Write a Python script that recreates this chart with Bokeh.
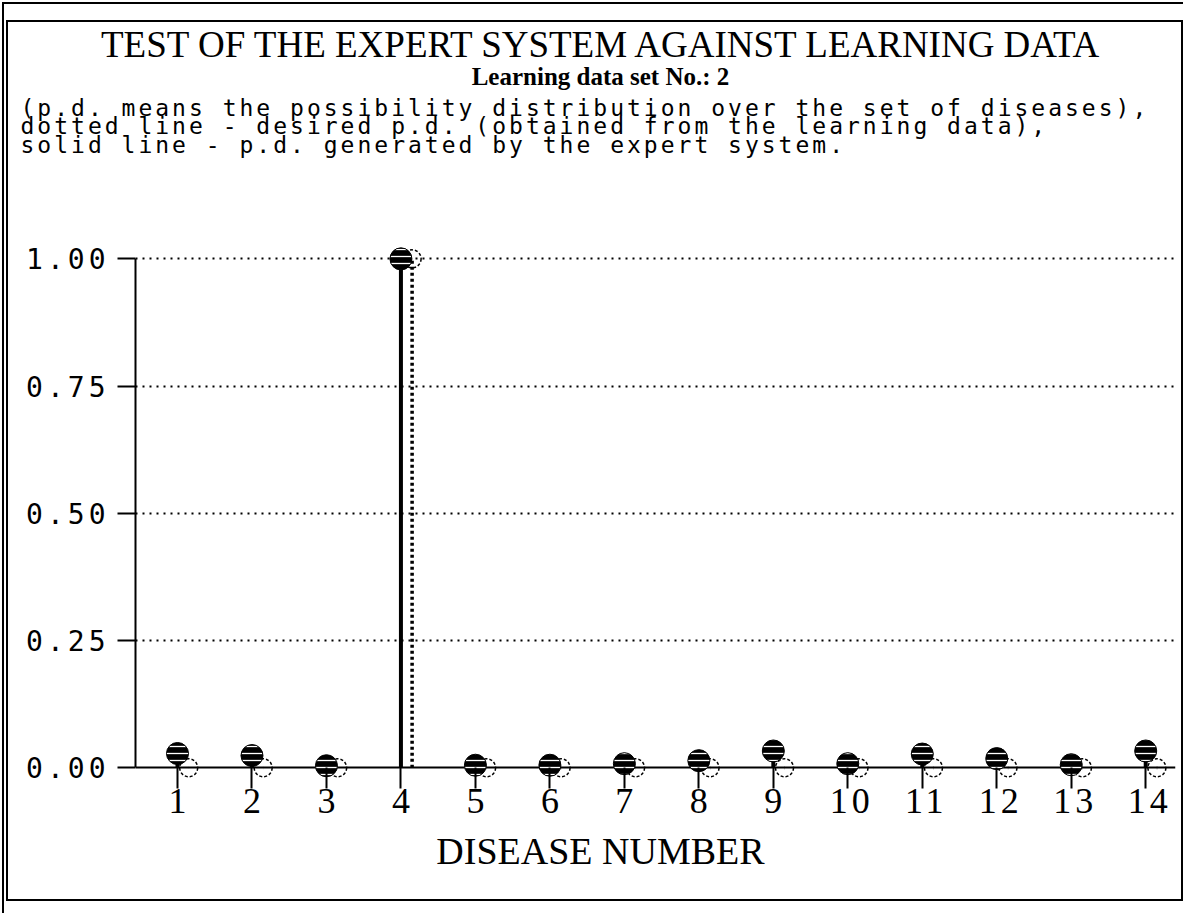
from bokeh.plotting import figure
from bokeh.layouts import column
from bokeh.models import (Range1d, FixedTicker, NumeralTickFormatter, Label,
                          Grid, ColumnDataSource)
from bokeh.transform import dodge
from bokeh.embed import file_html
from bokeh.resources import INLINE

# ---------------- data ----------------
diseases = list(range(1, 15))
expert_pd = [0.028, 0.024, 0.004, 1.0, 0.005, 0.005, 0.008,
             0.014, 0.033, 0.008, 0.027, 0.018, 0.006, 0.033]
desired_pd = [0, 0, 0, 1.0, 0, 0, 0, 0, 0, 0, 0, 0, 0, 0]
y_ticks = [0.0, 0.25, 0.5, 0.75, 1.0]
grid_levels = [0.25, 0.5, 0.75, 1.0]

title_text = "TEST OF THE EXPERT SYSTEM AGAINST LEARNING DATA"
subtitle_text = "Learning data set No.: 2"
note_lines = [
    "(p.d. means the possibility distribution over the set of diseases),",
    "dotted line - desired p.d. (obtained from the learning data),",
    "solid line - p.d. generated by the expert system.",
]
x_label = "DISEASE NUMBER"

W = 1173
HEAD1_H, HEAD2_H, CHART_H, FOOT_H = 69, 147, 592, 69


def blank(height, styles=None):
    f = figure(width=W, height=height, output_backend="svg", toolbar_location=None,
               x_range=Range1d(0, W), y_range=Range1d(height, 0),
               x_axis_type=None, y_axis_type=None, min_border=0)
    f.outline_line_color = None
    f.background_fill_color = "white"
    f.border_fill_color = "white"
    f.frame_align = False
    if styles:
        f.styles = styles
    return f


# ---------------- header: title + subtitle ----------------
head1 = blank(HEAD1_H)
head1.add_layout(Label(x=594, y=22, text=title_text, text_align="center",
                       text_baseline="alphabetic", text_font="Liberation Serif",
                       text_font_size="37px", text_color="black"))
head1.add_layout(Label(x=592, y=54, text=subtitle_text, text_align="center",
                       text_baseline="alphabetic", text_font="Liberation Serif",
                       text_font_size="25px", text_font_style="bold",
                       text_color="black"))

# ---------------- header: explanatory notes ----------------
head2 = blank(HEAD2_H, styles={"letter-spacing": "3px"})
for i, line in enumerate(note_lines):
    head2.add_layout(Label(x=12, y=16 + 18.5 * i, text=line, text_align="left",
                           text_baseline="alphabetic", text_font="DejaVu Sans Mono",
                           text_font_size="23px", text_color="black"))

# ---------------- chart ----------------
X0, X1 = 0.436, 14.4
p = figure(width=W, height=CHART_H, output_backend="svg", toolbar_location=None,
           x_range=Range1d(X0, X1), y_range=Range1d(-0.025, 1.04),
           min_border_left=127, min_border_right=6,
           min_border_top=0, min_border_bottom=50)
p.frame_align = False
p.styles = {"letter-spacing": "4px"}
p.outline_line_color = None
p.background_fill_color = "white"
p.border_fill_color = "white"

src = ColumnDataSource(dict(x=diseases, expert=expert_pd, desired=desired_pd,
                            zero=[0.0] * len(diseases)))

p.xgrid.visible = False
p.ygrid.ticker = FixedTicker(ticks=grid_levels)
p.ygrid.grid_line_color = "black"
p.ygrid.grid_line_dash = "2 5"
p.ygrid.grid_line_width = 2
p.ygrid.bounds = (X0, diseases[-1])

p.add_layout(Grid(dimension=1, ticker=FixedTicker(ticks=[0.0]),
                  grid_line_color="black", grid_line_width=2,
                  bounds=(X0, diseases[-1])))

xa = p.xaxis[0]
xa.ticker = FixedTicker(ticks=diseases)
xa.axis_line_color = None
xa.major_tick_in = 13
xa.major_tick_out = 8
xa.major_tick_line_width = 2
xa.minor_tick_line_color = None
xa.major_label_text_font = "Liberation Serif"
xa.major_label_text_font_size = "36px"
xa.major_label_text_color = "black"
xa.major_label_standoff = 0

ya = p.yaxis[0]
ya.ticker = FixedTicker(ticks=y_ticks)
ya.formatter = NumeralTickFormatter(format="0.00")
ya.bounds = (0, 1)
ya.axis_line_width = 2
ya.axis_line_color = "black"
ya.major_tick_in = 0
ya.major_tick_out = 18
ya.major_tick_line_width = 2
ya.minor_tick_line_color = None
ya.major_label_text_font = "DejaVu Sans Mono"
ya.major_label_text_font_size = "28px"
ya.major_label_text_color = "black"
ya.major_label_standoff = 24

p.segment(x0="x", y0="zero", x1="x", y1="expert", source=src,
          line_color="black", line_width=4)
dx = dodge("x", 0.15, range=p.x_range)
p.segment(x0=dx, y0="zero", x1=dx, y1="desired", source=src,
          line_color="black", line_width=3.5, line_dash="3 3")

p.scatter(x=dx, y="desired", source=src, marker="circle", size=18,
          fill_color=None, line_color="black", line_width=1.5, line_dash="3 2")
p.scatter(x="x", y="expert", source=src, marker="circle", size=22,
          fill_color="black", line_color="black",
          hatch_pattern="horizontal_line", hatch_color="white",
          hatch_scale=7, hatch_weight=1.3)

# ---------------- footer ----------------
foot = blank(FOOT_H)
foot.add_layout(Label(x=592, y=20, text=x_label, text_align="center",
                      text_baseline="alphabetic", text_font="Liberation Serif",
                      text_font_size="38px", text_color="black"))

inner = column(head1, head2, p, foot, spacing=0,
               styles={"border": "2px solid black"})
outer = column(inner, spacing=0,
               styles={"border-left": "2px solid black",
                       "border-top": "2px solid black",
                       "margin-left": "2px", "margin-top": "2px",
                       "padding-left": "2px", "padding-top": "16px",
                       "padding-bottom": "12px"})

open("out.html", "w").write(file_html(outer, INLINE))
